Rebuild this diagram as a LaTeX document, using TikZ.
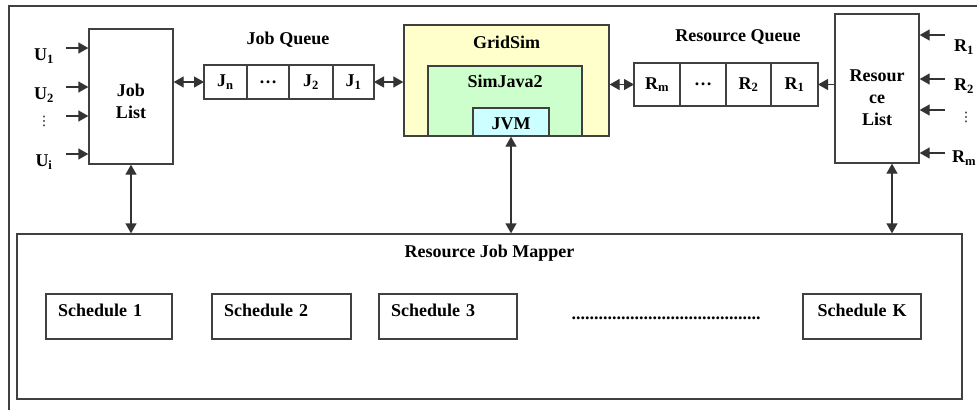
\documentclass[tikz,border=0pt]{standalone}
\usepackage{fontspec}
\setmainfont{Liberation Serif}
\newfontfamily\symfont{DejaVu Sans}
\usetikzlibrary{positioning,arrows.meta}
\definecolor{gridyellow}{RGB}{255,255,204}
\definecolor{simgreen}{RGB}{204,255,204}
\definecolor{jvmblue}{RGB}{204,255,255}
\tikzset{
    box/.style = {
        draw = black!75,
        line width = 1.3pt,
        fill = white,
        align = center,
        font = \bfseries\fontsize{18}{22}\selectfont,
        },
    cell/.style = {
        box,
        inner sep = 0pt,
        outer sep = 0pt,
        },
    title/.style = {
        font = \bfseries\fontsize{18}{22}\selectfont,
        },
    vdots/.style = {
        font = \symfont\fontsize{13}{13}\selectfont,
        },
    sched/.style = {
        box,
        minimum height = 45,
        inner xsep = 12pt,
        text depth = 12pt,
        align = left,
        },
    feed/.style = {
        -{Triangle[length=10pt,width=11pt]},
        line width = 1.3pt,
        draw = black!80,
        },
    link/.style = {
        {Triangle[length=10pt,width=11pt]}-{Triangle[length=10pt,width=11pt]},
        line width = 1.3pt,
        draw = black!80,
        },
}

\begin{document}
\begin{tikzpicture}[x=1pt, y=-1pt]
    \useasboundingbox (0,0) rectangle (977,410);
    \draw[black!75, line width=1.3pt] (9,410) -- (9,6) -- (977,6);

    % users and the job side
    \node[box, minimum width=84, minimum height=135, text height=44.5pt] (joblist) at (131,96.5) {Job\\List};
    \node[title] (u1) at (44,56) {U\textsubscript{1}};
    \node[title] (u2) at (44,95) {U\textsubscript{2}};
    \node[vdots] (udots) at (44,121) {⋮};
    \node[title] (ui) at (44,162) {U\textsubscript{i}};
    \foreach \y [count=\i] in {48,87,116,154} {
        \coordinate (uin\i) at (66,\y);
        \draw[feed] (uin\i) -- (uin\i -| joblist.west);
    }

    \node[cell, minimum width=43, minimum height=34, anchor=west] (jn) at (204,82) {J\textsubscript{n}};
    \node[cell, minimum width=42, minimum height=34, right=0pt of jn] (jdots) {\dots};
    \node[cell, minimum width=44, minimum height=34, right=0pt of jdots] (j2) {J\textsubscript{2}};
    \node[cell, minimum width=41, minimum height=34, right=0pt of j2] (j1) {J\textsubscript{1}};
    \node[title] (jq) at (288,40) {Job Queue};

    % simulator layers
    \node[box, fill=gridyellow, minimum width=205, minimum height=111] (gridsim) at (506.5,80.5) {};
    \node[title, below=8pt of gridsim.north] (gridsimtitle) {GridSim};
    \node[box, fill=simgreen, minimum width=154, minimum height=70] (simjava) at (505,101) {};
    \node[title, below=6pt of simjava.north] (simjavatitle) {SimJava2};
    \node[box, fill=jvmblue, minimum width=76, minimum height=28, inner sep=0pt, text height=15pt] (jvm) at (511,122) {JVM};

    % resources
    \node[cell, minimum width=46, minimum height=43, anchor=west] (rm) at (634,84.5) {R\textsubscript{m}};
    \node[cell, minimum width=46, minimum height=43, right=0pt of rm] (rdots) {\dots};
    \node[cell, minimum width=45, minimum height=43, right=0pt of rdots] (r2) {R\textsubscript{2}};
    \node[cell, minimum width=47, minimum height=43, right=0pt of r2] (r1) {R\textsubscript{1}};
    \node[title] (rq) at (738,37) {Resource Queue};

    \node[box, minimum width=84, minimum height=149, text height=75pt] (reslist) at (877,88.5) {Resour\\ce\\List};
    \node[title] (rl1) at (964,47) {R\textsubscript{1}};
    \node[title] (rl2) at (964,86) {R\textsubscript{2}};
    \node[vdots] (rldots) at (966,117) {⋮};
    \node[title] (rlm) at (964,158) {R\textsubscript{m}};
    \foreach \y [count=\i] in {35,79,110,153} {
        \coordinate (rin\i) at (945,\y);
        \draw[feed] (rin\i) -- (rin\i -| reslist.east);
    }

    % mapper
    \node[box, minimum width=945, minimum height=165] (mapper) at (489.5,316.5) {};
    \node[title, below=8pt of mapper.north] (mappertitle) {Resource Job Mapper};
    \node[sched, text width=102pt] (s1) at (109,316.5) {Schedule 1};
    \node[sched, text width=115pt] (s2) at (281.5,316.5) {Schedule 2};
    \node[sched, text width=114pt] (s3) at (448,316.5) {Schedule 3};
    \node[sched, text width=94pt, align=center] (sk) at (862,316.5) {Schedule K};
    \node[title] (more) at (666,318) {..........................................};

    \draw[link] (jn.west -| joblist.east) -- (jn.west);
    \draw[link] (j1.east) -- (j1.east -| gridsim.west);
    \draw[link] (gridsim.east |- rm.west) -- (rm.west);
    \draw[feed] (reslist.west |- r1.east) -- (r1.east);
    \draw[link] (joblist.south) -- (joblist.south |- mapper.north);
    \draw[link] (jvm.south) -- (jvm.south |- mapper.north);
    \draw[link] ([xshift=15pt]reslist.south) -- ([xshift=15pt]reslist.south |- mapper.north);
\end{tikzpicture}
\end{document}
